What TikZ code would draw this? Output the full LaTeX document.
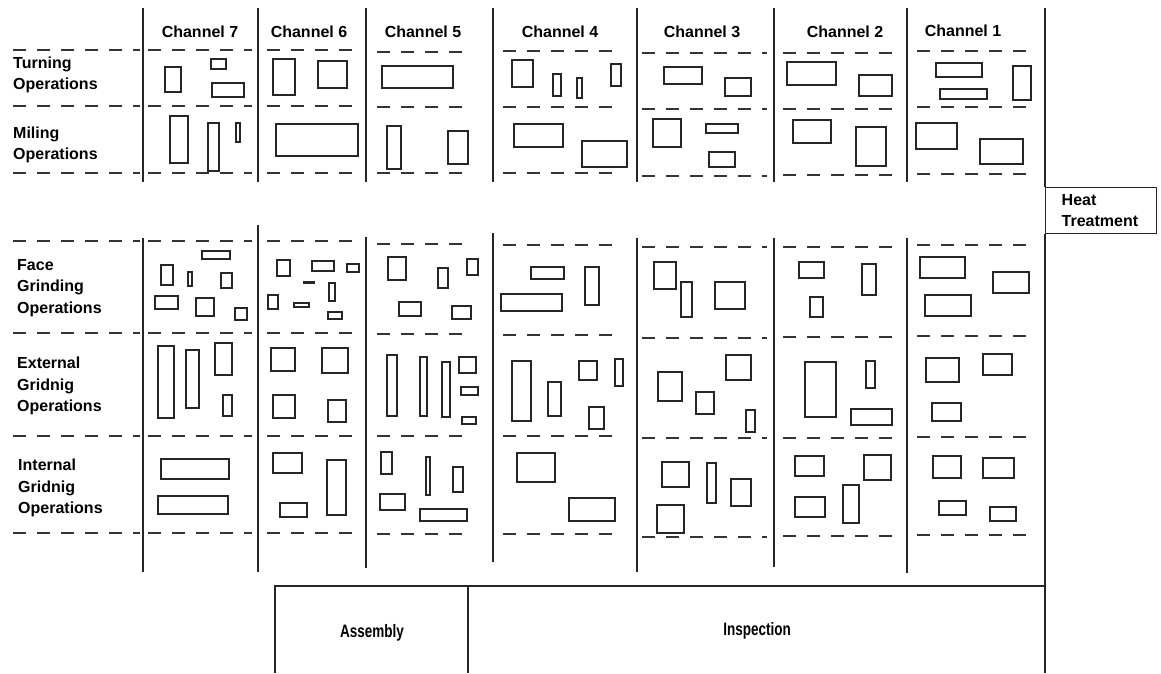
\documentclass[tikz,border=0pt]{standalone}
\usepackage{fontspec}
\usepackage{graphicx}
\setmainfont{Liberation Sans}
\begin{document}
\begin{tikzpicture}[x=1pt,y=-1pt,
  vline/.style={line width=1.4pt, draw=black!85},
  dline/.style={line width=1.3pt, draw=black!80, dash pattern=on 13pt off 11pt},
  box/.style={line width=1.1pt, draw=black!85},
  lbl/.style={font=\fontsize{16}{21.5}\selectfont\bfseries, inner sep=0pt, align=left, anchor=west},
  chl/.style={font=\fontsize{16}{19}\selectfont\bfseries, inner sep=0pt},
  bottxt/.style={font=\fontsize{18}{21}\selectfont\bfseries, inner sep=0pt}]
\useasboundingbox (0,0) rectangle (1161,673);

% column headers
\node[chl] (ch7) at (200,32) {Channel 7};
\node[chl] (ch6) at (309,32) {Channel 6};
\node[chl] (ch5) at (423,32) {Channel 5};
\node[chl] (ch4) at (560,32) {Channel 4};
\node[chl] (ch3) at (702,32) {Channel 3};
\node[chl] (ch2) at (845,32) {Channel 2};
\node[chl] (ch1) at (963,31) {Channel 1};

% row labels
\node[lbl] (turn) at (13,75) {Turning\\Operations};
\node[lbl] (mill) at (13,145) {Miling\\Operations};
\node[lbl] (face) at (17,288) {Face\\Grinding\\Operations};
\node[lbl] (ext) at (17,386) {External\\Gridnig\\Operations};
\node[lbl] (int) at (18,488) {Internal\\Gridnig\\Operations};

% vertical channel separators
\foreach \x/\t/\b in {143/238/572, 258/225/572, 366/237/568, 493/233/562, 637/238/572, 774/238/567, 907/238/573}{
  \draw[vline] (\x,8) -- (\x,182);
  \draw[vline] (\x,\t) -- (\x,\b);
}

% heat treatment
\node[draw, line width=1.4pt, draw=black!85, anchor=north west, minimum width=111pt, minimum height=46pt,
      text width=79pt, inner xsep=16pt, inner ysep=2pt, align=left,
      font=\fontsize{16}{21}\selectfont\bfseries] (heat) at (1045,187) {Heat\\Treatment};
\draw[vline] (1045,8) -- (heat.north west);
\draw[vline] (heat.south west) -- (1045,673);

% assembly / inspection
\coordinate (bl) at (275,673);
\coordinate (btl) at (275,586);
\coordinate (btr) at (1045,586);
\coordinate (dvt) at (468,586);
\coordinate (dvb) at (468,673);
\draw[vline] (bl) -- (btl) -- (btr);
\draw[vline] (dvt) -- (dvb);
\node[bottxt] (asm) at (372,633) {\scalebox{0.75}[1]{Assembly}};
\node[bottxt] (insp) at (757,631) {\scalebox{0.75}[1]{Inspection}};

% dashed row separators
\foreach \y in {50,106,173,241,333,436,533} \draw[dline] (13,\y) -- (140,\y);
\foreach \y in {50,106,173,241,333,436,533} \draw[dline] (148,\y) -- (252,\y);
\foreach \y in {50,106,173,241,333,436,533} \draw[dline] (267,\y) -- (360,\y);
\foreach \y in {52,107,173,244,334,436,534} \draw[dline] (377,\y) -- (472,\y);
\foreach \y in {51,107,173,245,335,436,534} \draw[dline] (503,\y) -- (618,\y);
\foreach \y in {53,109,176,247,338,438,537} \draw[dline] (642,\y) -- (767,\y);
\foreach \y in {53,109,175,247,337,438,536} \draw[dline] (783,\y) -- (897,\y);
\foreach \y in {51,107,174,245,336,437,535} \draw[dline] (917,\y) -- (1032,\y);

% ---- Turning operations
\foreach \a/\b/\c/\d in {165/67/181/92, 211/59/226/69, 212/83/244/97,
  273/59/295/95, 318/61/347/88,
  382/66/453/88,
  512/60/533/87, 553/74/561/96, 577/78/582/98, 611/64/621/86,
  664/67/702/84, 725/78/751/96,
  787/62/836/85, 859/75/892/96,
  936/63/982/77, 940/89/987/99, 1013/66/1031/100}
  \draw[box] (\a,\b) rectangle (\c,\d);

% ---- Milling operations
\foreach \a/\b/\c/\d in {170/116/188/163, 208/123/219/171, 236/123/240/142,
  276/124/358/156,
  387/126/401/169, 448/131/468/164,
  514/124/563/147, 582/141/627/167,
  653/119/681/147, 706/124/738/133, 709/152/735/167,
  793/120/831/143, 856/127/886/166,
  916/123/957/149, 980/139/1023/164}
  \draw[box] (\a,\b) rectangle (\c,\d);
\draw[line width=2.4pt, black!85] (208,171) -- (219,171);

% ---- Face grinding operations
\foreach \a/\b/\c/\d in {202/251/230/259, 161/265/173/285, 188/272/192/286, 221/273/232/288,
  155/296/178/309, 196/298/214/316, 235/308/247/320,
  277/260/290/276, 312/261/334/271, 347/264/359/272, 329/283/335/301,
  268/295/278/309, 294/303/309/307, 328/312/342/319,
  388/257/406/280, 438/268/448/288, 467/259/478/275, 399/302/421/316, 452/306/471/319,
  531/267/564/279, 501/294/562/311, 585/267/599/305,
  654/262/676/289, 681/282/692/317, 715/282/745/309,
  799/262/824/278, 862/264/876/295, 810/297/823/317,
  920/257/965/278, 993/272/1029/293, 925/295/971/316}
  \draw[box] (\a,\b) rectangle (\c,\d);
\fill[black!85] (303,281) rectangle (315,284);

% ---- External grinding operations
\foreach \a/\b/\c/\d in {158/346/174/418, 186/350/199/408, 215/343/232/375, 223/395/232/416,
  271/348/295/371, 322/348/348/373, 273/395/295/418, 328/400/346/422,
  387/355/397/416, 420/357/427/416, 442/362/450/417, 459/357/476/373, 461/387/478/395, 462/417/476/424,
  512/361/531/421, 548/382/561/416, 579/361/597/380, 615/359/623/386, 589/407/604/429,
  658/372/682/401, 726/355/751/380, 696/392/714/414, 746/410/755/432,
  805/362/836/417, 866/361/875/388, 851/409/892/425,
  926/358/959/382, 983/354/1012/375, 932/403/961/421}
  \draw[box] (\a,\b) rectangle (\c,\d);

% ---- Internal grinding operations
\foreach \a/\b/\c/\d in {161/459/229/479, 158/496/228/514,
  273/453/302/473, 327/460/346/515, 280/503/307/517,
  381/452/392/474, 426/457/430/495, 453/467/463/492, 380/494/405/510, 420/509/467/521,
  517/453/555/482, 569/498/615/521,
  662/462/689/487, 707/463/716/503, 731/479/751/506, 657/505/684/533,
  795/456/824/476, 864/455/891/480, 795/497/825/517, 843/485/859/523,
  933/456/961/478, 983/458/1014/478, 939/501/966/515, 990/507/1016/521}
  \draw[box] (\a,\b) rectangle (\c,\d);
\end{tikzpicture}
\end{document}
